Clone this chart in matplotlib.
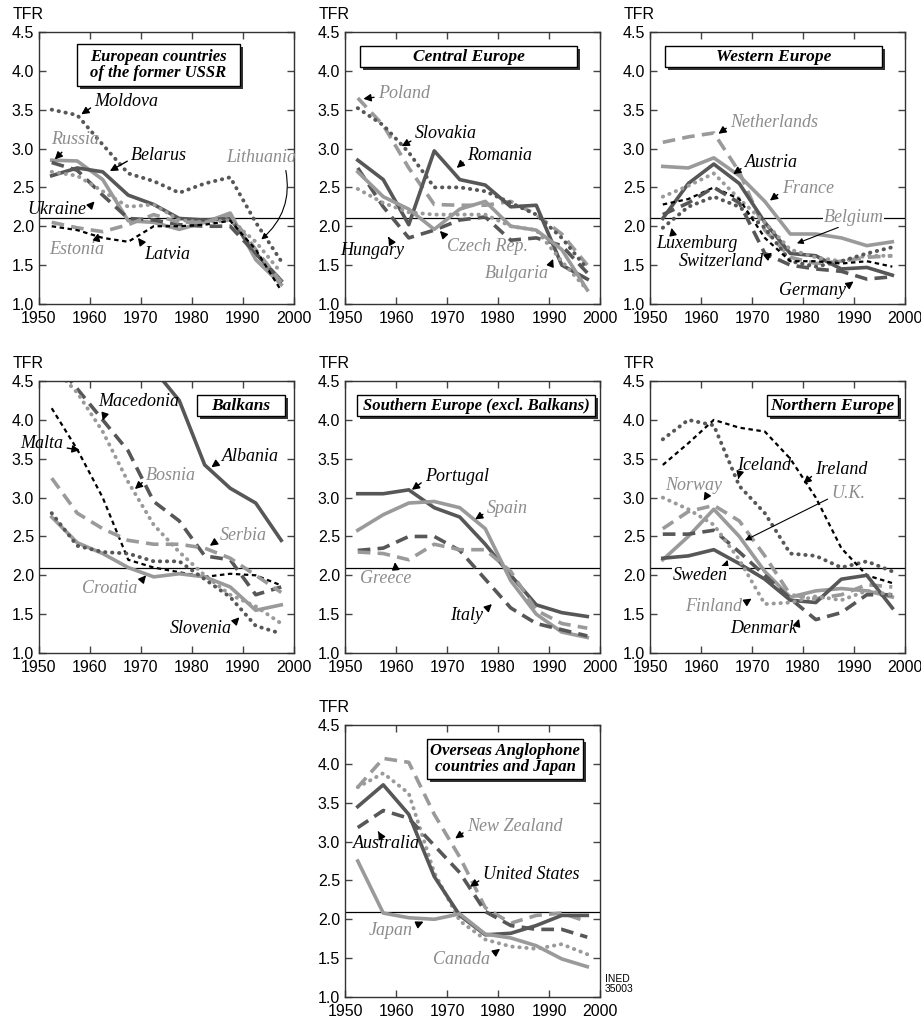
import matplotlib
matplotlib.use("Agg")
import matplotlib.pyplot as plt
from matplotlib.patches import Rectangle

years = [1952.5, 1957.5, 1962.5, 1967.5, 1972.5, 1977.5, 1982.5, 1987.5, 1992.5, 1997.5]

# European countries of the former USSR
moldova = [3.50, 3.43, 3.05, 2.68, 2.58, 2.43, 2.55, 2.63, 2.05, 1.55]
russia = [2.85, 2.84, 2.60, 2.07, 2.05, 1.96, 2.05, 2.17, 1.57, 1.25]
belarus = [2.65, 2.75, 2.70, 2.40, 2.28, 2.10, 2.08, 2.10, 1.65, 1.30]
ukraine = [2.82, 2.72, 2.40, 2.10, 2.08, 2.02, 2.00, 2.00, 1.65, 1.30]
lithuania = [2.70, 2.65, 2.45, 2.25, 2.28, 2.08, 2.05, 2.08, 1.80, 1.40]
estonia = [2.05, 1.98, 1.93, 2.02, 2.15, 2.05, 2.05, 2.15, 1.70, 1.28]
latvia = [2.00, 1.95, 1.85, 1.80, 2.00, 2.00, 2.02, 2.07, 1.70, 1.17]

# Central Europe
poland = [3.65, 3.30, 2.75, 2.28, 2.27, 2.27, 2.32, 2.15, 1.90, 1.50]
slovakia = [3.52, 3.30, 2.95, 2.50, 2.50, 2.45, 2.30, 2.15, 1.85, 1.45]
romania = [2.85, 2.60, 2.02, 2.97, 2.60, 2.53, 2.25, 2.27, 1.50, 1.32]
hungary = [2.75, 2.25, 1.85, 1.95, 2.08, 2.12, 1.82, 1.85, 1.75, 1.40]
czech = [2.70, 2.38, 2.22, 1.96, 2.22, 2.32, 2.00, 1.95, 1.70, 1.18]
bulgaria = [2.48, 2.30, 2.18, 2.15, 2.15, 2.15, 2.00, 1.95, 1.55, 1.18]

# Western Europe
netherlands = [3.08, 3.15, 3.20, 2.70, 1.95, 1.60, 1.52, 1.55, 1.60, 1.62]
france = [2.77, 2.75, 2.88, 2.65, 2.32, 1.90, 1.90, 1.85, 1.75, 1.80]
austria = [2.10, 2.55, 2.80, 2.55, 2.05, 1.65, 1.62, 1.45, 1.47, 1.37]
belgium = [2.38, 2.52, 2.68, 2.35, 2.05, 1.70, 1.60, 1.55, 1.62, 1.62]
luxembourg = [1.98, 2.25, 2.38, 2.25, 1.98, 1.55, 1.48, 1.55, 1.65, 1.73]
switzerland = [2.28, 2.35, 2.50, 2.35, 1.85, 1.55, 1.55, 1.52, 1.55, 1.48]
germany = [2.15, 2.30, 2.50, 2.30, 1.65, 1.50, 1.45, 1.42, 1.32, 1.35]

# Balkans
albania = [5.60, 6.10, 5.90, 5.20, 4.65, 4.25, 3.42, 3.12, 2.93, 2.45]
macedonia = [4.80, 4.40, 4.00, 3.60, 2.95, 2.70, 2.25, 2.20, 1.75, 1.85]
bosnia = [4.70, 4.35, 3.85, 3.20, 2.65, 2.30, 2.00, 1.75, 1.60, 1.38]
malta = [4.15, 3.62, 3.00, 2.20, 2.10, 2.04, 1.98, 2.02, 2.00, 1.87]
serbia = [3.25, 2.80, 2.60, 2.45, 2.40, 2.40, 2.35, 2.22, 2.00, 1.78]
croatia = [2.75, 2.42, 2.28, 2.10, 1.98, 2.02, 1.98, 1.85, 1.55, 1.62]
slovenia = [2.80, 2.38, 2.30, 2.28, 2.18, 2.18, 1.95, 1.72, 1.35, 1.25]

# Southern Europe
portugal = [3.05, 3.05, 3.10, 2.87, 2.75, 2.40, 2.00, 1.62, 1.52, 1.47]
spain = [2.58, 2.78, 2.93, 2.95, 2.87, 2.60, 1.93, 1.50, 1.27, 1.20]
italy = [2.32, 2.35, 2.50, 2.50, 2.32, 1.95, 1.58, 1.38, 1.30, 1.22]
greece = [2.30, 2.28, 2.20, 2.40, 2.33, 2.33, 2.05, 1.55, 1.38, 1.32]

# Northern Europe
iceland = [3.75, 4.00, 3.93, 3.15, 2.80, 2.28, 2.25, 2.10, 2.18, 2.05]
ireland = [3.42, 3.70, 4.00, 3.90, 3.85, 3.50, 3.00, 2.35, 2.00, 1.90]
norway = [2.60, 2.82, 2.90, 2.70, 2.25, 1.75, 1.70, 1.75, 1.88, 1.85]
uk = [2.20, 2.50, 2.85, 2.50, 2.05, 1.72, 1.80, 1.83, 1.80, 1.72]
sweden = [2.22, 2.25, 2.33, 2.15, 1.95, 1.68, 1.65, 1.95, 2.00, 1.58]
denmark = [2.53, 2.53, 2.58, 2.30, 2.00, 1.70, 1.43, 1.52, 1.75, 1.75]
finland = [3.00, 2.85, 2.65, 2.20, 1.63, 1.65, 1.73, 1.68, 1.80, 1.75]

# Overseas Anglophone countries and Japan
new_zealand = [3.70, 4.07, 4.02, 3.35, 2.80, 2.15, 1.95, 2.05, 2.08, 1.97]
canada = [3.70, 3.88, 3.62, 2.60, 1.98, 1.74, 1.65, 1.62, 1.68, 1.55]
united_states = [3.45, 3.73, 3.35, 2.55, 2.05, 1.80, 1.82, 1.92, 2.05, 2.05]
australia = [3.18, 3.40, 3.30, 2.95, 2.60, 2.10, 1.92, 1.87, 1.87, 1.77]
japan = [2.75, 2.08, 2.02, 2.00, 2.07, 1.81, 1.76, 1.66, 1.49, 1.39]

replacement = 2.1

DARK = '#575757'
LIGHT = '#9a9a9a'
LABEL_GRAY = '#8c8c8c'
STYLES = {
    'dk_solid': dict(color=DARK, lw=2.6, ls='-'),
    'lt_solid': dict(color=LIGHT, lw=2.6, ls='-'),
    'dk_dash': dict(color=DARK, lw=2.6, ls=(0, (3.5, 2))),
    'lt_dash': dict(color=LIGHT, lw=2.6, ls=(0, (3.5, 2))),
    'dk_dot': dict(color=DARK, lw=2.8, ls=(0, (0.1, 1.7)), dash_capstyle='round'),
    'lt_dot': dict(color=LIGHT, lw=2.8, ls=(0, (0.1, 1.7)), dash_capstyle='round'),
    'bk_fine': dict(color='black', lw=1.6, ls=(0, (2, 1.6))),
}

# (label, values, style, text x, text y, tip x, tip y, relpos)
panels = [
    dict(pos=(0.0423, 0.7023), title='European countries\nof the former USSR',
         box=(0.149, 0.801, 0.639, 0.155),
         series=[
             ('Moldova', moldova, 'dk_dot', 1960.9, 3.60, 1958.3, 3.44, (0, 0.3)),
             ('Russia', russia, 'lt_solid', 1952.4, 3.11, 1953.1, 2.86, (0.3, 0)),
             ('Belarus', belarus, 'dk_solid', 1968.1, 2.91, 1963.9, 2.71, (0, 0.3)),
             ('Ukraine', ukraine, 'dk_dash', 1947.8, 2.21, 1960.9, 2.32, (1, 0.5)),
             ('Lithuania', lithuania, 'lt_dot', 1986.7, 2.88, 1993.6, 1.83, (0.84, 0)),
             ('Estonia', estonia, 'lt_dash', 1952.1, 1.70, 1961.6, 1.91, (0.85, 1)),
             ('Latvia', latvia, 'bk_fine', 1970.7, 1.63, 1969.4, 1.85, (0, 1)),
         ]),
    dict(pos=(0.3746, 0.7023), title='Central Europe',
         box=(0.059, 0.871, 0.851, 0.077),
         series=[
             ('Poland', poland, 'lt_dash', 1956.5, 3.71, 1953.6, 3.64, (0, 0.3)),
             ('Slovakia', slovakia, 'dk_dot', 1963.7, 3.19, 1961.1, 3.03, (0, 0.2)),
             ('Romania', romania, 'dk_solid', 1973.9, 2.91, 1971.9, 2.75, (0, 0.3)),
             ('Hungary', hungary, 'dk_dash', 1949.0, 1.69, 1958.5, 1.86, (0.8, 1)),
             ('Czech Rep.', czech, 'lt_solid', 1969.9, 1.74, 1968.6, 1.94, (0, 1)),
             ('Bulgaria', bulgaria, 'lt_dot', 1977.5, 1.39, 1990.8, 1.58, (1, 0.8)),
         ]),
    dict(pos=(0.7058, 0.7023), title='Western Europe',
         box=(0.059, 0.871, 0.851, 0.077),
         series=[
             ('Netherlands', netherlands, 'lt_dash', 1965.7, 3.34, 1963.4, 3.19, (0, 0.3)),
             ('France', france, 'lt_solid', 1975.8, 2.49, 1973.5, 2.33, (0, 0.3)),
             ('Austria', austria, 'dk_solid', 1968.6, 2.82, 1966.3, 2.67, (0, 0.3)),
             ('Belgium', belgium, 'lt_dot', 1984.0, 2.11, 1978.8, 1.78, (0.3, 0)),
             ('Luxemburg', luxembourg, 'dk_dot', 1951.3, 1.78, 1954.2, 1.98, (0.2, 1)),
             ('Switzerland', switzerland, 'bk_fine', 1955.6, 1.55, 1973.9, 1.66, (1, 0.6)),
             ('Germany', germany, 'dk_dash', 1975.2, 1.17, 1989.9, 1.29, (1, 0.7)),
         ]),
    dict(pos=(0.0423, 0.3604), title='Balkans',
         box=(0.620, 0.871, 0.345, 0.078),
         series=[
             ('Albania', albania, 'dk_solid', 1985.8, 3.53, 1983.8, 3.39, (0, 0.3)),
             ('Macedonia', macedonia, 'dk_dash', 1961.6, 4.24, 1962.5, 3.99, (0.1, 0)),
             ('Bosnia', bosnia, 'lt_dot', 1971.0, 3.28, 1968.8, 3.11, (0, 0.3)),
             ('Malta', malta, 'bk_fine', 1946.3, 3.69, 1958.0, 3.61, (1, 0.3)),
             ('Serbia', serbia, 'lt_dash', 1985.4, 2.51, 1983.5, 2.38, (0, 0.3)),
             ('Croatia', croatia, 'lt_solid', 1958.5, 1.83, 1971.0, 2.00, (1, 0.7)),
             ('Slovenia', slovenia, 'dk_dot', 1975.6, 1.31, 1989.3, 1.46, (1, 0.7)),
         ]),
    dict(pos=(0.3746, 0.3604), title='Southern Europe (excl. Balkans)',
         box=(0.047, 0.871, 0.933, 0.078),
         series=[
             ('Portugal', portugal, 'dk_solid', 1965.7, 3.27, 1963.1, 3.10, (0, 0.3)),
             ('Spain', spain, 'lt_solid', 1977.8, 2.86, 1975.5, 2.72, (0, 0.3)),
             ('Italy', italy, 'dk_dash', 1970.6, 1.48, 1978.8, 1.63, (1, 0.7)),
             ('Greece', greece, 'lt_dash', 1952.9, 1.96, 1959.8, 2.17, (0.7, 1)),
         ]),
    dict(pos=(0.7058, 0.3604), title='Northern Europe',
         box=(0.459, 0.871, 0.514, 0.078),
         series=[
             ('Iceland', iceland, 'dk_dot', 1967.0, 3.41, 1967.3, 3.24, (0.05, 0)),
             ('Ireland', ireland, 'bk_fine', 1982.4, 3.36, 1980.1, 3.18, (0, 0.3)),
             ('Norway', norway, 'lt_dash', 1952.9, 3.15, 1960.5, 2.96, (0.75, 0)),
             ('U.K.', uk, 'lt_solid', 1985.6, 3.05, 1968.6, 2.45, (0, 0.3)),
             ('Sweden', sweden, 'dk_solid', 1954.5, 2.00, 1965.2, 2.20, (0.95, 1)),
             ('Denmark', denmark, 'dk_dash', 1965.7, 1.32, 1979.2, 1.44, (1, 0.7)),
             ('Finland', finland, 'lt_dot', 1956.9, 1.60, 1969.9, 1.70, (1, 0.6)),
         ]),
    dict(pos=(0.3746, 0.0235), title='Overseas Anglophone\ncountries and Japan',
         box=(0.322, 0.801, 0.612, 0.148),
         series=[
             ('New Zealand', new_zealand, 'lt_dash', 1973.9, 3.19, 1971.6, 3.04, (0, 0.3)),
             ('Canada', canada, 'lt_dot', 1967.3, 1.48, 1980.4, 1.62, (1, 0.7)),
             ('United States', united_states, 'dk_solid', 1977.0, 2.57, 1974.5, 2.42, (0, 0.3)),
             ('Australia', australia, 'dk_dash', 1951.6, 2.98, 1956.5, 3.13, (0.4, 1)),
             ('Japan', japan, 'lt_solid', 1954.6, 1.86, 1965.4, 1.97, (1, 0.7)),
         ]),
]

thin_arrows = {'Lithuania': -0.3, 'Belgium': 0.0, 'U.K.': 0.0}
white_bg = {'Belgium', 'Sweden'}

sans = 'Liberation Sans'
serif = 'Liberation Serif'

fig = plt.figure(figsize=(9.21, 10.21), dpi=100)
W, H = 0.2769, 0.2664

for p in panels:
    ax = fig.add_axes([p['pos'][0], p['pos'][1], W, H])
    ax.set_xlim(1950, 2000)
    ax.set_ylim(1.0, 4.5)
    ax.set_xticks([1950, 1960, 1970, 1980, 1990, 2000])
    ax.set_yticks([1.0, 1.5, 2.0, 2.5, 3.0, 3.5, 4.0, 4.5])
    ax.set_yticklabels(['1.0', '1.5', '2.0', '2.5', '3.0', '3.5', '4.0', '4.5'])
    ax.tick_params(direction='in', top=True, right=True, length=5, width=1,
                   color='#444444', labelsize=11.5)
    ax.tick_params(axis='x', pad=5)
    ax.tick_params(axis='y', pad=3.5)
    for lab in ax.get_xticklabels() + ax.get_yticklabels():
        lab.set_fontfamily(sans)
    for sp in ax.spines.values():
        sp.set_color('#333333')
        sp.set_linewidth(1.0)
    ax.text(-0.102, 1.063, 'TFR', transform=ax.transAxes, fontsize=11.5,
            family=sans, va='center', ha='left')

    ax.axhline(replacement, color='black', lw=0.9, zorder=1)

    for name, vals, st, tx, ty, ax_, ay, rel in p['series']:
        ax.plot(years, vals, zorder=2, **STYLES[st])
        col = LABEL_GRAY if st.startswith('lt') else 'black'
        if name in thin_arrows:
            ap = dict(arrowstyle='-|>', color='black', lw=0.8, mutation_scale=9,
                      shrinkA=1, shrinkB=0, relpos=rel,
                      connectionstyle='arc3,rad=%g' % thin_arrows[name])
        else:
            ap = dict(arrowstyle='-|>', color='black', lw=1.0, mutation_scale=11,
                      shrinkA=1, shrinkB=0, relpos=rel)
        kw = {}
        if name in white_bg:
            kw['bbox'] = dict(facecolor='white', edgecolor='none', pad=0.5)
        ax.annotate(name, xy=(ax_, ay), xytext=(tx, ty), fontsize=13,
                    family=serif, style='italic', color=col, ha='left',
                    va='center', arrowprops=ap, zorder=4, annotation_clip=False, **kw)

    x0, y0, bw, bh = p['box']
    ax.add_patch(Rectangle((x0 + 0.012, y0 - 0.011), bw, bh, transform=ax.transAxes,
                           facecolor='#333333', edgecolor='none', zorder=5))
    ax.add_patch(Rectangle((x0, y0), bw, bh, transform=ax.transAxes,
                           facecolor='white', edgecolor='black', lw=1.0, zorder=6))
    tsize = 12 if len(p['title']) > 25 else 12.5
    ax.text(x0 + bw / 2, y0 + bh / 2, p['title'], transform=ax.transAxes,
            fontsize=tsize, family=serif, style='italic', weight='bold',
            ha='center', va='center', zorder=7, linespacing=1.05)

fig.text(605 / 921, 1 - 974 / 1021, 'INED\n35003', fontsize=7.5, family=sans,
         va='top', ha='left', linespacing=0.95)

fig.savefig('out.png', dpi=100)
